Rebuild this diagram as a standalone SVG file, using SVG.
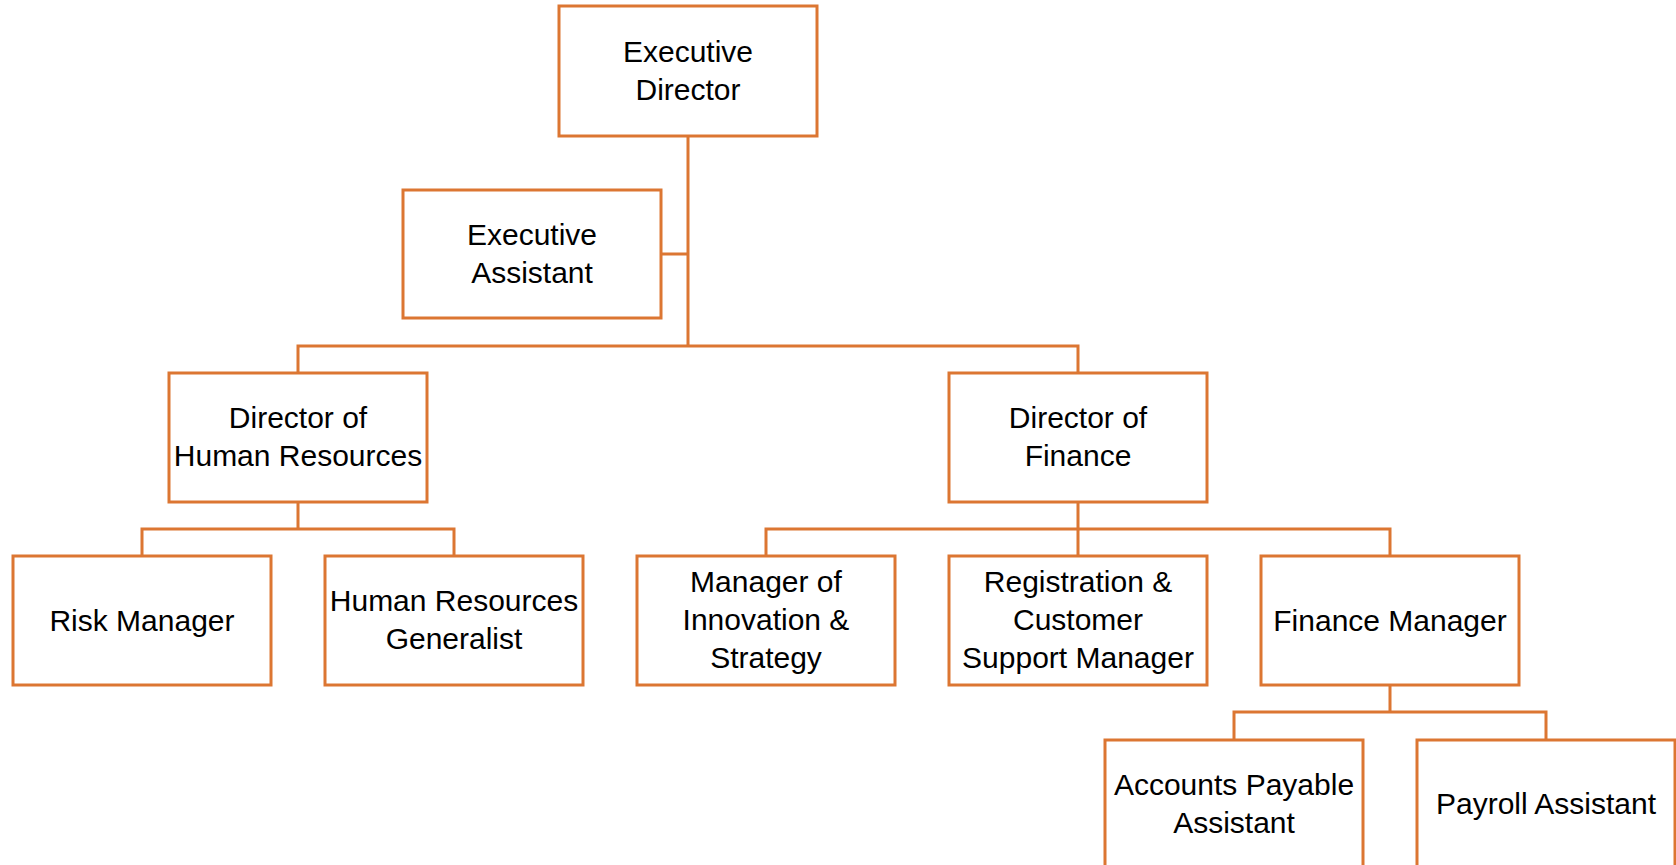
<svg xmlns="http://www.w3.org/2000/svg" width="1676" height="865" viewBox="0 0 1676 865">
<style>
.box{fill:#fff;stroke:#DC7632;stroke-width:3}
.con{fill:none;stroke:#DC7632;stroke-width:3}
text{font-family:"Liberation Sans",Arial,sans-serif;font-size:30px;fill:#000;text-anchor:middle}
</style>
<rect width="1676" height="865" fill="#fff"/>
<g id="connectors">
<path class="con" d="M688 136V346M661 254H688M298 373V346H1078V373"/>
<path class="con" d="M298 502V529M142 556V529H454V556"/>
<path class="con" d="M1078 502V556M766 556V529H1390V556"/>
<path class="con" d="M1390 685V712M1234 740V712H1546V740"/>
</g>
<g id="executive-director"><rect class="box" x="559" y="6" width="258" height="130"/><text x="688" y="62">Executive</text><text x="688" y="100">Director</text></g>
<g id="executive-assistant"><rect class="box" x="403" y="190" width="258" height="128"/><text x="532" y="245">Executive</text><text x="532" y="283">Assistant</text></g>
<g id="director-hr"><rect class="box" x="169" y="373" width="258" height="129"/><text x="298" y="428">Director of</text><text x="298" y="466">Human Resources</text></g>
<g id="director-finance"><rect class="box" x="949" y="373" width="258" height="129"/><text x="1078" y="428">Director of</text><text x="1078" y="466">Finance</text></g>
<g id="risk-manager"><rect class="box" x="13" y="556" width="258" height="129"/><text x="142" y="631">Risk Manager</text></g>
<g id="hr-generalist"><rect class="box" x="325" y="556" width="258" height="129"/><text x="454" y="611">Human Resources</text><text x="454" y="649">Generalist</text></g>
<g id="manager-innovation"><rect class="box" x="637" y="556" width="258" height="129"/><text x="766" y="592">Manager of</text><text x="766" y="630">Innovation &amp;</text><text x="766" y="668">Strategy</text></g>
<g id="registration-manager"><rect class="box" x="949" y="556" width="258" height="129"/><text x="1078" y="592">Registration &amp;</text><text x="1078" y="630">Customer</text><text x="1078" y="668">Support Manager</text></g>
<g id="finance-manager"><rect class="box" x="1261" y="556" width="258" height="129"/><text x="1390" y="631">Finance Manager</text></g>
<g id="accounts-payable"><rect class="box" x="1105" y="740" width="258" height="130"/><text x="1234" y="795">Accounts Payable</text><text x="1234" y="833">Assistant</text></g>
<g id="payroll-assistant"><rect class="box" x="1417" y="740" width="258" height="130"/><text x="1546" y="814">Payroll Assistant</text></g>
</svg>
